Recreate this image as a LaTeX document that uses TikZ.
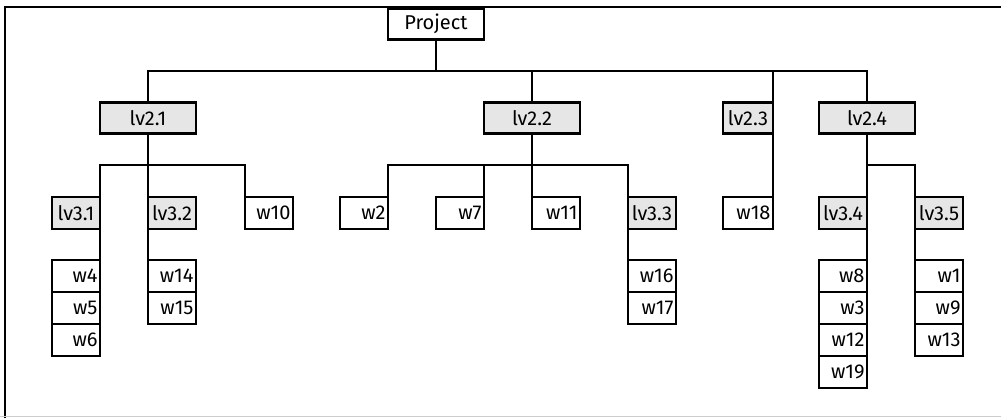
\documentclass[tikz,border=0pt]{standalone}
\usepackage{fontspec}
\setmainfont{Fira Sans}
\usepackage{tikz}
\usetikzlibrary{positioning}
\definecolor{boxgray}{RGB}{230,230,230}
\definecolor{framegray}{RGB}{205,205,205}
\tikzset{
  topblock/.style={rectangle, draw=black, fill=white,
    minimum width=96pt, minimum height=31pt, inner sep=0pt, outer sep=0pt,
    font=\fontsize{20}{22}\selectfont, line width=2.6pt},
  lvblock/.style={topblock, fill=boxgray},
  smallblock/.style={lvblock, minimum width=48pt, minimum height=32pt},
  wblock/.style={rectangle, draw=black, fill=white,
    text width=43pt, align=right, minimum height=32pt,
    inner xsep=2.5pt, inner ysep=0pt, outer sep=0pt,
    font=\fontsize{20}{22}\selectfont, line width=2.6pt},
  line/.style={line width=2.6pt, color=black}
}

\begin{document}
\begin{tikzpicture}[x=1pt, y=-1pt]
  \useasboundingbox (0,0) rectangle (1001,418);

  % Frame
  \draw[line] (5,418) -- (5,7) -- (1001,7);
  \draw[framegray, line width=1pt] (0,416) -- (1001,416);

  % Level 1 and 2
  \node[topblock] (project) at (436,24) {Project};
  \node[lvblock] (l21) at (148,118) {lv2.1};
  \node[lvblock] (l22) at (532,118) {lv2.2};
  \node[lvblock, minimum width=50pt] (l23) at (748,118) {lv2.3};
  \node[lvblock] (l24) at (867,118) {lv2.4};

  % Level 3
  \node[smallblock] (l31) at (76,213) {lv3.1};
  \node[smallblock] (l32) at (172,213) {lv3.2};
  \node[wblock] (w10) at (269,213) {w10};
  \node[wblock] (w2) at (364,213) {w2};
  \node[wblock] (w7) at (460,213) {w7};
  \node[wblock] (w11) at (556,213) {w11};
  \node[smallblock] (l33) at (652,213) {lv3.3};
  \node[wblock, text width=45pt] (w18) at (748,213) {w18};
  \node[smallblock] (l34) at (843,213) {lv3.4};
  \node[smallblock] (l35) at (939,213) {lv3.5};

  % Work packages
  \foreach \n/\y in {w4/276, w5/308, w6/340}
    \node[wblock] (\n) at (76,\y) {\n};
  \foreach \n/\y in {w14/276, w15/308}
    \node[wblock] (\n) at (172,\y) {\n};
  \foreach \n/\y in {w16/276, w17/308}
    \node[wblock] (\n) at (652,\y) {\n};
  \foreach \n/\y in {w8/276, w3/308, w12/340, w19/372}
    \node[wblock] (\n) at (843,\y) {\n};
  \foreach \n/\y in {w1/276, w9/308, w13/340}
    \node[wblock] (\n) at (939,\y) {\n};

  % Connectors
  \coordinate (bar1) at (project |- 0,71);
  \draw[line] (project.south) -- (bar1);
  \foreach \c in {l21.north, l22.north, l23.north east, l24.north}
    \draw[line] (bar1) -| (\c);

  \coordinate (bar21) at (l21 |- 0,165);
  \draw[line] (l21.south) -- (bar21);
  \foreach \c in {l31.north east, l32.north west, w10.north west}
    \draw[line] (bar21) -| (\c);

  \coordinate (bar22) at (l22 |- 0,165);
  \draw[line] (l22.south) -- (bar22);
  \foreach \c in {w2.north east, w7.north east, w11.north west, l33.north west}
    \draw[line] (bar22) -| (\c);

  \draw[line] (l23.south east) -- (w18.north east);

  \coordinate (bar24) at (l24 |- 0,165);
  \draw[line] (l24.south) -- (bar24);
  \foreach \c in {l34.north east, l35.north west}
    \draw[line] (bar24) -| (\c);

  \draw[line] (l31.south east) -- (w4.north east);
  \draw[line] (l32.south west) -- (w14.north west);
  \draw[line] (l33.south west) -- (w16.north west);
  \draw[line] (l34.south east) -- (w8.north east);
  \draw[line] (l35.south west) -- (w1.north west);
\end{tikzpicture}
\end{document}
